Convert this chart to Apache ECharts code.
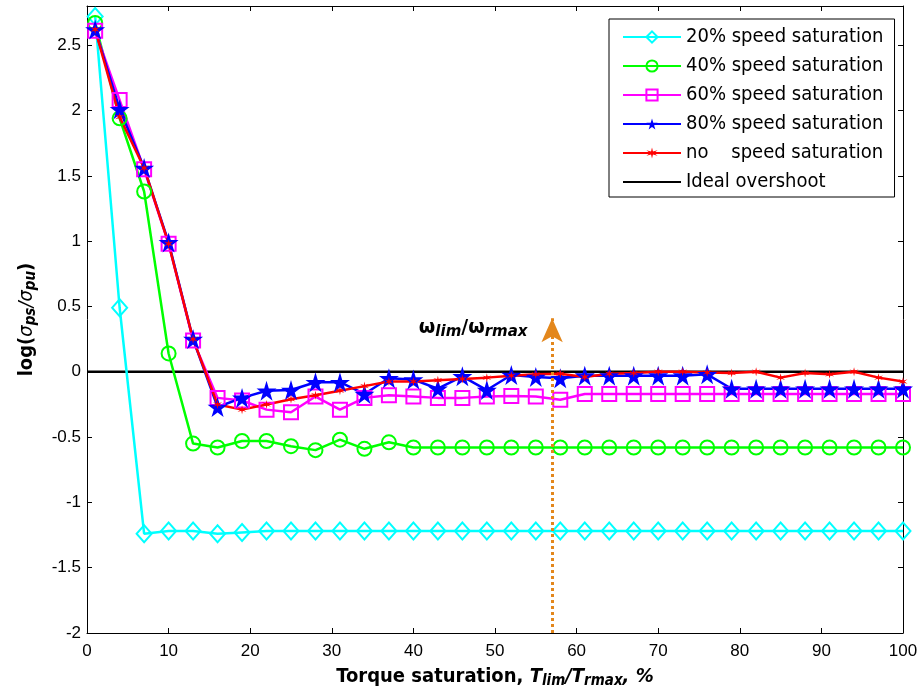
<!DOCTYPE html>
<html>
<head>
<meta charset="utf-8">
<script src="https://cdn.jsdelivr.net/npm/echarts@6/dist/echarts.min.js"></script>
<style>
  html, body { margin: 0; padding: 0; background: #fff; }
  #chart { width: 921px; height: 692px; }
</style>
</head>
<body>
<div id="chart"></div>
<script>
// torque saturation, % (x positions of the markers)
const torqueSat = [1,4,7,10,13,16,19,22,25,28,31,34,37,40,43,46,49,52,55,58,61,64,67,70,73,76,79,82,85,88,91,94,97,100];

const sat20 = [2.72,0.49,-1.24,-1.22,-1.22,-1.24,-1.23,-1.22,-1.22,-1.22,-1.22,-1.22,-1.22,-1.22,-1.22,-1.22,-1.22,-1.22,-1.22,-1.22,-1.22,-1.22,-1.22,-1.22,-1.22,-1.22,-1.22,-1.22,-1.22,-1.22,-1.22,-1.22,-1.22,-1.22];
const sat40 = [2.67,1.94,1.38,0.14,-0.55,-0.58,-0.53,-0.53,-0.57,-0.60,-0.52,-0.59,-0.54,-0.58,-0.58,-0.58,-0.58,-0.58,-0.58,-0.58,-0.58,-0.58,-0.58,-0.58,-0.58,-0.58,-0.58,-0.58,-0.58,-0.58,-0.58,-0.58,-0.58,-0.58];
const sat60 = [2.61,2.08,1.55,0.98,0.24,-0.20,-0.22,-0.29,-0.31,-0.19,-0.29,-0.20,-0.18,-0.19,-0.20,-0.20,-0.19,-0.185,-0.19,-0.215,-0.17,-0.17,-0.17,-0.17,-0.17,-0.17,-0.17,-0.17,-0.17,-0.17,-0.17,-0.17,-0.17,-0.17];
const sat80 = [2.62,2.01,1.56,0.99,0.25,-0.27,-0.20,-0.145,-0.14,-0.08,-0.08,-0.17,-0.05,-0.06,-0.13,-0.035,-0.14,-0.025,-0.04,-0.05,-0.03,-0.03,-0.03,-0.03,-0.03,-0.02,-0.13,-0.13,-0.13,-0.13,-0.13,-0.13,-0.13,-0.13];
const noSat = [2.62,1.95,1.56,0.98,0.25,-0.25,-0.29,-0.25,-0.21,-0.18,-0.145,-0.11,-0.075,-0.075,-0.065,-0.055,-0.045,-0.03,-0.02,-0.015,-0.04,-0.015,-0.01,0,0,-0.005,-0.01,0,-0.045,-0.01,-0.02,0,-0.045,-0.075];

const idealX = [0, 100];
const idealY = [0, 0];

const legendNames = ['20% speed saturation','40% speed saturation','60% speed saturation','80% speed saturation','no    speed saturation','Ideal overshoot'];

// ω_lim/ω_rmax annotation
const speedLimitX = 57;
const arrowFromY = -2;
const arrowToY = 0.41;
const labelAt = [54.6, 0.335];

const STAR = 'path://M50,0 L61,35 L98,35 L68,57 L79,91 L50,70 L21,91 L32,57 L2,35 L39,35 Z';
const ASTER = 'path://M50,0 L57.5,37 L93.3,25 L65,50 L93.3,75 L57.5,63 L50,100 L42.5,63 L6.7,75 L35,50 L6.7,25 L42.5,37 Z';
const ORANGE = '#E3871C';
const FONT = '"Liberation Sans", Arial, sans-serif';
const COND = '"DejaVu Sans Condensed", "DejaVu Sans", sans-serif';

const pairs = ys => torqueSat.map((x, i) => [x, ys[i]]);

function markerSeries(name, ys, color, symbol, size, filled) {
    return {
        name: name, type: 'line', data: pairs(ys),
        symbol: symbol, symbolSize: size, showAllSymbol: true,
        lineStyle: { color: color, width: 2.5 },
        itemStyle: { color: filled ? color : 'rgba(255,255,255,0)', borderColor: color, borderWidth: filled ? 0 : 2 },
        emphasis: { disabled: true },
        animation: false
    };
}

const chart = echarts.init(document.getElementById('chart'), null, { renderer: 'canvas' });

const tickStyle = { show: true, inside: true, length: 5, lineStyle: { color: '#000', width: 1 } };
const lineStyleAxis = { show: true, onZero: false, lineStyle: { color: '#000', width: 1 } };

chart.setOption({
    backgroundColor: '#fff',
    animation: false,
    grid: { left: 87, right: 18, top: 6, bottom: 59, show: false, containLabel: false, outerBoundsMode: 'none' },
    legend: {
        data: legendNames,
        orient: 'vertical', left: 609, top: 19,
        padding: [8, 11, 5, 13],
        itemWidth: 58, itemHeight: 14, itemGap: 9, itemTextGap: 6,
        borderColor: '#000', borderWidth: 1, backgroundColor: '#fff',
        textStyle: { fontFamily: COND, fontSize: 20, color: '#000', lineHeight: 20 },
        selectedMode: false
    },
    xAxis: [{
        type: 'value', min: 0, max: 100, interval: 10,
        axisLine: lineStyleAxis, axisTick: tickStyle, splitLine: { show: false },
        axisLabel: { color: '#000', fontSize: 17, fontFamily: FONT, margin: 10 },
        name: '{b|Torque saturation, }{i|T}{sub|lim}{i|/T}{sub|rmax}{i|, %}',
        nameLocation: 'middle', nameGap: 32,
        nameTextStyle: {
            rich: {
                b: { fontSize: 20, fontWeight: 'bold', fontFamily: COND, color: '#000', lineHeight: 24 },
                i: { fontSize: 20, fontWeight: 'bold', fontStyle: 'italic', fontFamily: COND, color: '#000', lineHeight: 24 },
                sub: { fontSize: 15, fontWeight: 'bold', fontStyle: 'italic', fontFamily: COND, color: '#000', lineHeight: 14, verticalAlign: 'bottom' }
            }
        }
    }, {
        type: 'value', min: 0, max: 100, interval: 10, position: 'top',
        axisLine: lineStyleAxis, axisTick: tickStyle, axisLabel: { show: false }, splitLine: { show: false }
    }],
    yAxis: [{
        type: 'value', min: -2, max: 2.8, interval: 0.5,
        axisLine: lineStyleAxis, axisTick: tickStyle, splitLine: { show: false },
        axisLabel: { color: '#000', fontSize: 17, fontFamily: FONT, margin: 6, showMaxLabel: false,
            formatter: v => (Math.abs(v * 2 - Math.round(v * 2)) < 1e-6 ? String(+v.toFixed(1)) : '') },
        name: '{b|log(}{s|σ}{sub|ps}{s|/σ}{sub|pu}{b|)}',
        nameLocation: 'middle', nameGap: 48, nameRotate: 90,
        nameTextStyle: {
            rich: {
                b: { fontSize: 20, fontWeight: 'bold', fontFamily: COND, color: '#000', lineHeight: 24 },
                s: { fontSize: 20, fontStyle: 'italic', fontFamily: COND, color: '#000', lineHeight: 24 },
                sub: { fontSize: 15, fontWeight: 'bold', fontStyle: 'italic', fontFamily: COND, color: '#000', lineHeight: 14, verticalAlign: 'bottom' }
            }
        }
    }, {
        type: 'value', min: -2, max: 2.8, interval: 0.5, position: 'right',
        axisLine: lineStyleAxis, axisTick: tickStyle, axisLabel: { show: false }, splitLine: { show: false }
    }],
    series: [
        {
            name: 'Ideal overshoot', type: 'line', data: idealX.map((x, i) => [x, idealY[i]]),
            symbol: 'none', lineStyle: { color: '#000', width: 2.5 },
            itemStyle: { color: 'rgba(0,0,0,0)', borderWidth: 0 },
            emphasis: { disabled: true }, z: 1,
            markLine: {
                silent: true, symbol: ['none', 'arrow'], symbolSize: [16, 24],
                label: { show: false },
                lineStyle: { color: ORANGE, type: [3, 3], width: 3 },
                itemStyle: { color: ORANGE },
                data: [[{ coord: [speedLimitX, arrowFromY] }, { coord: [speedLimitX, arrowToY] }]]
            },
            markPoint: {
                silent: true, symbol: 'circle', symbolSize: 0,
                data: [{ coord: labelAt }],
                label: {
                    show: true, position: 'left', distance: 5,
                    formatter: '{w|ω}{sub|lim}{w|/ω}{sub|rmax}',
                    rich: {
                        w: { fontSize: 19, fontWeight: 'bold', fontFamily: 'DejaVu Sans', color: '#000', lineHeight: 24 },
                        sub: { fontSize: 15, fontWeight: 'bold', fontStyle: 'italic', fontFamily: 'DejaVu Sans', color: '#000', lineHeight: 15, verticalAlign: 'bottom' }
                    }
                }
            }
        },
        markerSeries('20% speed saturation', sat20, '#00FFFF', 'diamond', [15, 17], false),
        markerSeries('40% speed saturation', sat40, '#00FF00', 'circle', 14, false),
        markerSeries('60% speed saturation', sat60, '#FF00FF', 'rect', 14, false),
        markerSeries('80% speed saturation', sat80, '#0000FF', STAR, 20, true),
        markerSeries('no    speed saturation', noSat, '#FF0000', ASTER, 9, true)
    ]
});
</script>
</body>
</html>
